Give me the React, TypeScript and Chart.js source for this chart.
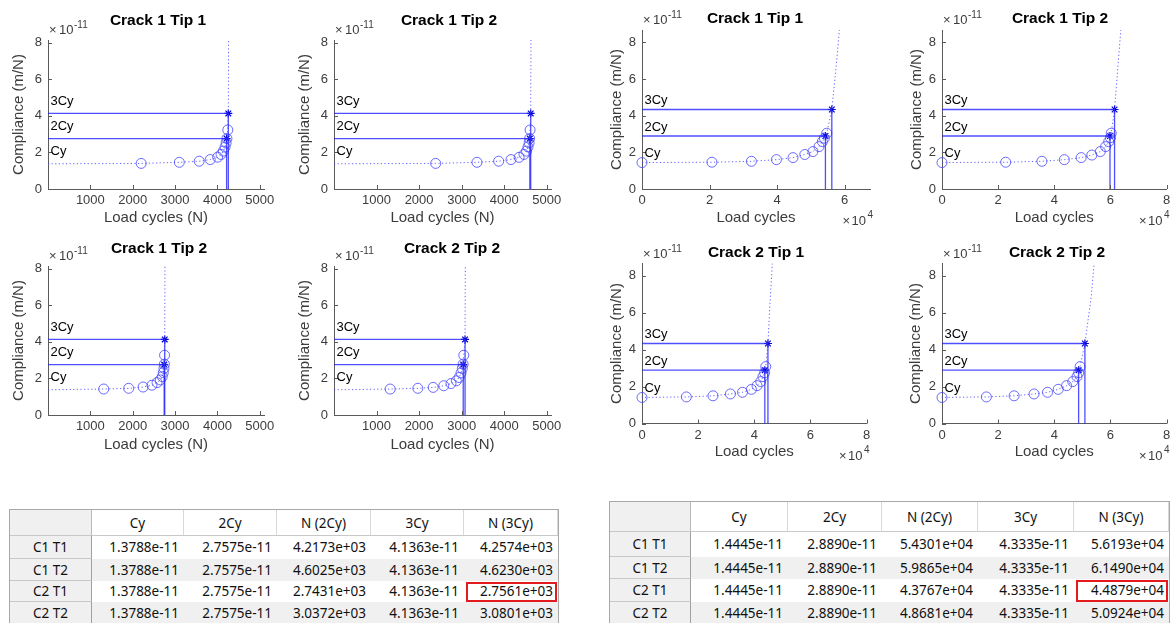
import React, { useEffect, useRef } from "react";
import { Chart, registerables } from "chart.js";
Chart.register(...registerables);

const FONT = '"Liberation Sans", Arial, Helvetica, sans-serif';
const TABLE_FONT = '"Noto Sans", "Open Sans", sans-serif';

// ---- table data ----
const rowLabels = ["C1 T1", "C1 T2", "C2 T1", "C2 T2"];
const colLabels = ["Cy", "2Cy", "N (2Cy)", "3Cy", "N (3Cy)"];

const leftCy = [1.3788e-11, 1.3788e-11, 1.3788e-11, 1.3788e-11];
const left2Cy = [2.7575e-11, 2.7575e-11, 2.7575e-11, 2.7575e-11];
const leftN2Cy = [4217.3, 4602.5, 2743.1, 3037.2];
const left3Cy = [4.1363e-11, 4.1363e-11, 4.1363e-11, 4.1363e-11];
const leftN3Cy = [4257.4, 4623.0, 2756.1, 3080.1];

const rightCy = [1.4445e-11, 1.4445e-11, 1.4445e-11, 1.4445e-11];
const right2Cy = [2.889e-11, 2.889e-11, 2.889e-11, 2.889e-11];
const rightN2Cy = [54301, 59865, 43767, 48681];
const right3Cy = [4.3335e-11, 4.3335e-11, 4.3335e-11, 4.3335e-11];
const rightN3Cy = [56193, 61490, 44879, 50924];

// ---- chart titles ----
const leftTitles = ["Crack 1 Tip 1", "Crack 1 Tip 2", "Crack 1 Tip 2", "Crack 2 Tip 2"];
const rightTitles = ["Crack 1 Tip 1", "Crack 1 Tip 2", "Crack 2 Tip 1", "Crack 2 Tip 2"];

// ---- measured points: load cycles and compliance (x1e-11 m/N) ----
const l1Cycles = [2200, 3100, 3570, 3830, 4005, 4085, 4140, 4180, 4205, 4225, 4245];
const l1Compl = [1.4, 1.46, 1.52, 1.61, 1.74, 1.89, 2.07, 2.29, 2.52, 2.76, 3.23];
const l2Cycles = [2390, 3360, 3870, 4160, 4350, 4465, 4525, 4560, 4585, 4598, 4608];
const l2Compl = [1.4, 1.46, 1.52, 1.61, 1.73, 1.89, 2.07, 2.3, 2.52, 2.76, 3.23];
const l3Cycles = [1315, 1905, 2245, 2455, 2575, 2650, 2698, 2722, 2738, 2748, 2752];
const l3Compl = [1.42, 1.46, 1.53, 1.63, 1.77, 1.92, 2.1, 2.32, 2.55, 2.78, 3.27];
const l4Cycles = [1320, 1970, 2330, 2580, 2750, 2875, 2940, 2985, 3015, 3035, 3050];
const l4Compl = [1.42, 1.46, 1.51, 1.6, 1.72, 1.87, 2.05, 2.3, 2.55, 2.78, 3.27];

const r1Cycles = [0, 20700, 32400, 39800, 44700, 48200, 50600, 52400, 53400, 54000, 54700];
const r1Compl = [1.44, 1.46, 1.51, 1.6, 1.71, 1.88, 2.04, 2.31, 2.58, 2.77, 3.04];
const r2Cycles = [0, 22700, 35600, 43600, 49600, 53400, 56400, 58300, 59400, 60000, 60300];
const r2Compl = [1.44, 1.46, 1.51, 1.6, 1.71, 1.85, 2.04, 2.31, 2.58, 2.8, 3.04];
const r3Cycles = [0, 15800, 25300, 31500, 35800, 39000, 41000, 42300, 43100, 43700, 44100];
const r3Compl = [1.41, 1.44, 1.5, 1.6, 1.69, 1.85, 2.05, 2.27, 2.54, 2.75, 3.08];
const r4Cycles = [0, 15800, 25700, 32800, 37600, 41400, 44400, 46600, 48100, 48700, 49200];
const r4Compl = [1.41, 1.44, 1.5, 1.6, 1.69, 1.85, 2.05, 2.27, 2.54, 2.75, 3.08];

// ---- trend continuation beyond 3Cy ----
const l1TailCycles = [4265];
const l1TailCompl = [8.8];
const l2TailCycles = [4630];
const l2TailCompl = [8.8];
const l3TailCycles = [2762];
const l3TailCompl = [8.8];
const l4TailCycles = [3086];
const l4TailCompl = [8.8];
const r1TailCycles = [57500, 58500];
const r1TailCompl = [6.7, 8.8];
const r2TailCycles = [62700, 63800];
const r2TailCompl = [6.7, 8.8];
const r3TailCycles = [45600, 46500];
const r3TailCompl = [6.5, 8.8];
const r4TailCycles = [53200, 54300];
const r4TailCompl = [6.9, 8.8];

// ---- axis ticks ----
const yTicks = [0, 2, 4, 6, 8];
const leftXTicks = [0, 1000, 2000, 3000, 4000, 5000];
const rightXTicksShort = [0, 20000, 40000, 60000];
const rightXTicks = [0, 20000, 40000, 60000, 80000];

const AXIS = "#5a5a5a";
const TICK_TXT = "#3c3c3c";

type Spec = {
  title: string; titleX: number; titleY: number;
  L: number; T: number; R: number; B: number;
  xMax: number; yMax: number; xTicks: number[];
  right: boolean; yTitleX: number; xTitleY: number;
  cy: number; c2: number; n2: number; c3: number; n3: number;
  cyc: number[]; comp: number[]; tailC: number[]; tailV: number[];
  labelOff: number;
};

const E = 1e11;
function mk(i: number, right: boolean, cyc: number[], comp: number[], tailC: number[], tailV: number[], geo: any): Spec {
  return {
    title: right ? rightTitles[i] : leftTitles[i],
    right,
    cy: (right ? rightCy[i] : leftCy[i]) * E,
    c2: (right ? right2Cy[i] : left2Cy[i]) * E,
    n2: right ? rightN2Cy[i] : leftN2Cy[i],
    c3: (right ? right3Cy[i] : left3Cy[i]) * E,
    n3: right ? rightN3Cy[i] : leftN3Cy[i],
    cyc, comp, tailC, tailV,
    labelOff: right ? 0.48 : 0.66,
    ...geo,
  };
}

const specs: Spec[] = [
  mk(0, false, l1Cycles, l1Compl, l1TailCycles, l1TailCompl, { titleX: 158, titleY: 20.5, L: 48, T: 40, R: 264, B: 189, xMax: 5100, yMax: 8.15, xTicks: leftXTicks, yTitleX: 19, xTitleY: 218 }),
  mk(1, false, l2Cycles, l2Compl, l2TailCycles, l2TailCompl, { titleX: 449, titleY: 20.5, L: 334, T: 40, R: 551, B: 189, xMax: 5100, yMax: 8.15, xTicks: leftXTicks, yTitleX: 305, xTitleY: 218 }),
  mk(2, false, l3Cycles, l3Compl, l3TailCycles, l3TailCompl, { titleX: 159, titleY: 249, L: 48, T: 266, R: 264, B: 415, xMax: 5100, yMax: 8.15, xTicks: leftXTicks, yTitleX: 19, xTitleY: 445 }),
  mk(3, false, l4Cycles, l4Compl, l4TailCycles, l4TailCompl, { titleX: 452, titleY: 249, L: 334, T: 266, R: 551, B: 415, xMax: 5100, yMax: 8.15, xTicks: leftXTicks, yTitleX: 305, xTitleY: 445 }),
  mk(0, true, r1Cycles, r1Compl, r1TailCycles, r1TailCompl, { titleX: 755, titleY: 19, L: 642, T: 30, R: 870, B: 189, xMax: 67500, yMax: 8.667, xTicks: rightXTicksShort, yTitleX: 617, xTitleY: 218 }),
  mk(1, true, r2Cycles, r2Compl, r2TailCycles, r2TailCompl, { titleX: 1060, titleY: 19, L: 942, T: 30, R: 1166.5, B: 189, xMax: 80000, yMax: 8.667, xTicks: rightXTicks, yTitleX: 917, xTitleY: 218 }),
  mk(2, true, r3Cycles, r3Compl, r3TailCycles, r3TailCompl, { titleX: 756, titleY: 253, L: 642, T: 263.5, R: 866.5, B: 423.5, xMax: 80000, yMax: 8.667, xTicks: rightXTicks, yTitleX: 617, xTitleY: 451.5 }),
  mk(3, true, r4Cycles, r4Compl, r4TailCycles, r4TailCompl, { titleX: 1057, titleY: 253, L: 942, T: 263.5, R: 1166.5, B: 423.5, xMax: 80000, yMax: 8.667, xTicks: rightXTicks, yTitleX: 916, xTitleY: 451.5 }),
];

function ChartPanel({ s }: { s: Spec }) {
  const ref = useRef<HTMLCanvasElement>(null);
  const cx = Math.round(s.yTitleX - 12);
  const cyTop = Math.round(s.titleY - 14);
  const cw = Math.round(s.R + 30 - cx);
  const ch = Math.round(s.xTitleY + 14 - cyTop);

  useEffect(() => {
    if (!ref.current) return;
    const pts = (xs: number[], ys: number[]) => xs.map((x, i) => ({ x, y: ys[i] }));
    const trend = [{ x: 0, y: s.cy }, ...pts(s.cyc, s.comp), { x: s.n3, y: s.c3 }, ...pts(s.tailC, s.tailV)];
    const lineCol = "rgba(35,35,255,0.8)";
    const solid = (data: any[]) => ({ data, showLine: true, borderColor: lineCol, borderWidth: 1.3, pointRadius: 0, clip: 2 });
    const padBottomTitle = cyTop + ch - 9 - s.xTitleY;

    const extras = {
      id: "extras",
      afterDraw(chart: any) {
        const ctx = chart.ctx;
        const xs = chart.scales.x;
        const ys = chart.scales.y;
        ctx.save();
        ctx.strokeStyle = AXIS;
        ctx.lineWidth = 1;
        ctx.beginPath();
        ys.ticks.forEach((t: any) => {
          const py = Math.round(ys.getPixelForValue(t.value)) + 0.5;
          ctx.moveTo(xs.left, py);
          ctx.lineTo(xs.left + 4, py);
        });
        xs.ticks.forEach((t: any) => {
          const px = Math.round(xs.getPixelForValue(t.value)) + 0.5;
          ctx.moveTo(px, ys.bottom);
          ctx.lineTo(px, ys.bottom - 4);
        });
        ctx.stroke();
        // title
        ctx.fillStyle = "#000";
        ctx.font = `bold 15.5px ${FONT}`;
        ctx.textAlign = "center";
        ctx.textBaseline = "middle";
        ctx.fillText(s.title, s.titleX - cx, s.titleY - cyTop);
        // y exponent
        ctx.fillStyle = TICK_TXT;
        ctx.textAlign = "left";
        ctx.textBaseline = "alphabetic";
        const ex = xs.left + 1;
        const eb = ys.top - 6;
        ctx.font = `13px ${FONT}`;
        ctx.fillText("\u00d7", ex, eb);
        ctx.fillText("10", ex + 10, eb);
        ctx.font = `10px ${FONT}`;
        ctx.fillText("-11", ex + 25, eb - 6);
        // x exponent
        if (s.right) {
          const rx = xs.right + 3;
          const rb = ys.bottom + 36;
          ctx.font = `10px ${FONT}`;
          ctx.textAlign = "right";
          ctx.fillText("4", rx, rb - 7);
          ctx.font = `13px ${FONT}`;
          ctx.fillText("10", rx - 7, rb);
          ctx.fillText("\u00d7", rx - 23, rb);
        }
        // Cy labels
        ctx.fillStyle = "#000";
        ctx.font = `13px ${FONT}`;
        ctx.textAlign = "left";
        ctx.textBaseline = "middle";
        const labs: [string, number][] = [["Cy", s.cy], ["2Cy", s.c2], ["3Cy", s.c3]];
        labs.forEach(([t, v]) => ctx.fillText(t, xs.left + 2.5, ys.getPixelForValue(v + s.labelOff)));
        ctx.restore();
      },
    };

    const chart = new Chart(ref.current, {
      type: "scatter",
      data: {
        datasets: [
          {
            data: trend, showLine: true, borderColor: "rgba(70,70,255,0.85)", borderWidth: 1,
            borderDash: [1.2, 2.4], pointRadius: 0, clip: { left: 2, top: 0, right: 2, bottom: 2 },
          } as any,
          solid([{ x: 0, y: s.c2 }, { x: s.n2, y: s.c2 }]),
          solid([{ x: s.n2, y: 0 }, { x: s.n2, y: s.c2 }]),
          solid([{ x: 0, y: s.c3 }, { x: s.n3, y: s.c3 }]),
          solid([{ x: s.n3, y: 0 }, { x: s.n3, y: s.c3 }]),
          {
            data: pts(s.cyc, s.comp), showLine: false, pointRadius: 5, pointBorderWidth: 1,
            pointBorderColor: "rgba(70,70,255,0.8)", pointBackgroundColor: "rgba(0,0,0,0)", clip: 10,
          } as any,
          {
            data: [{ x: s.n2, y: s.c2 }, { x: s.n3, y: s.c3 }], showLine: false, pointStyle: "star",
            pointRadius: 4, pointBorderWidth: 1.2, pointBorderColor: "#0000d0", clip: 10,
          } as any,
        ],
      },
      options: {
        animation: false,
        responsive: false,
        maintainAspectRatio: false,
        events: [],
        layout: { padding: { left: 0, top: s.T - cyTop, right: cx + cw - s.R, bottom: 0 } },
        plugins: { legend: { display: false }, tooltip: { enabled: false }, title: { display: false } },
        scales: {
          x: {
            type: "linear", position: "bottom", min: 0, max: s.xMax,
            afterBuildTicks: (sc: any) => { sc.ticks = s.xTicks.map((v) => ({ value: v })); },
            afterFit: (sc: any) => { sc.height = cyTop + ch - s.B; },
            ticks: {
              autoSkip: false, maxRotation: 0, padding: 4, color: TICK_TXT,
              font: { family: FONT, size: 13 },
              callback: (v: any) => (s.right ? String(Number(v) / 10000) : Number(v) === 0 ? "" : String(v)),
            },
            grid: { display: false, drawTicks: false },
            border: { display: true, color: AXIS, width: 1 },
            title: {
              display: true, text: s.right ? "Load cycles" : "Load cycles (N)", color: TICK_TXT,
              font: { family: FONT, size: 15 }, padding: { top: 0, bottom: padBottomTitle },
            },
          },
          y: {
            type: "linear", position: "left", min: 0, max: s.yMax,
            afterBuildTicks: (sc: any) => { sc.ticks = yTicks.map((v) => ({ value: v })); },
            afterFit: (sc: any) => { sc.width = s.L - cx; },
            ticks: { padding: 6, color: TICK_TXT, font: { family: FONT, size: 13 }, callback: (v: any) => String(v) },
            grid: { display: false, drawTicks: false },
            border: { display: true, color: AXIS, width: 1 },
            title: {
              display: true, text: "Compliance (m/N)", color: TICK_TXT,
              font: { family: FONT, size: 15 }, padding: { top: 3, bottom: 0 },
            },
          },
        },
      } as any,
      plugins: [extras],
    });
    return () => chart.destroy();
  }, []);

  return (
    <canvas
      ref={ref}
      width={cw}
      height={ch}
      style={{ position: "absolute", left: cx, top: cyTop, width: cw, height: ch }}
    />
  );
}

function fmt(v: number) {
  const [m, e] = v.toExponential(4).split("e");
  const sign = e[0] === "-" ? "-" : "+";
  const d = e.replace(/[+-]/, "").padStart(2, "0");
  return `${m}e${sign}${d}`;
}

function ResultTable(props: {
  x: number; y: number; colX: number[]; rowY: number[];
  cy: number[]; c2: number[]; n2: number[]; c3: number[]; n3: number[]; mark: [number, number];
}) {
  const { x, y, colX, rowY } = props;
  const cols = [props.cy, props.c2, props.n2, props.c3, props.n3];
  const cells: any[] = [];
  const base: any = {
    position: "absolute", boxSizing: "border-box", fontFamily: TABLE_FONT, fontSize: 13.5,
    color: "#111", whiteSpace: "nowrap", overflow: "hidden",
  };
  const W = colX[colX.length - 1] - colX[0];
  const H = rowY[rowY.length - 1] - rowY[0];
  for (let r = 0; r < rowY.length - 1; r++) {
    for (let c = 0; c < colX.length - 1; c++) {
      const st: any = {
        ...base,
        left: colX[c] - colX[0], top: rowY[r] - rowY[0],
        width: colX[c + 1] - colX[c], height: rowY[r + 1] - rowY[r],
        lineHeight: `${rowY[r + 1] - rowY[r]}px`,
      };
      let text = "";
      if (r === 0 && c === 0) {
        Object.assign(st, { background: "#f0f0f0", borderRight: "1px solid #b8b8b8", borderBottom: "1px solid #c8c8c8" });
      } else if (r === 0) {
        text = colLabels[c - 1];
        Object.assign(st, { background: "#fff", textAlign: "center", borderRight: "1px solid #d8d8d8", borderBottom: "1px solid #c8c8c8" });
      } else if (c === 0) {
        text = rowLabels[r - 1];
        Object.assign(st, { background: "#f0f0f0", textAlign: "center", borderRight: "1px solid #a0a0a0", borderBottom: "1px solid #c8c8c8" });
      } else {
        text = fmt(cols[c - 1][r - 1]);
        Object.assign(st, { background: r % 2 === 1 ? "#fff" : "#f0f0f0", textAlign: "right", paddingRight: 5 });
      }
      cells.push(<div key={`${r}-${c}`} style={st}>{text}</div>);
    }
  }
  const [mr, mc] = props.mark;
  cells.push(
    <div key="mark" style={{
      position: "absolute", boxSizing: "border-box",
      left: colX[mc] - colX[0] + 2, top: rowY[mr] - rowY[0] + 1,
      width: colX[mc + 1] - colX[mc] - 3, height: rowY[mr + 1] - rowY[mr] - 1,
      border: "2px solid #e41a1c",
    }} />
  );
  return (
    <div style={{ position: "absolute", left: x, top: y, width: W, height: H, border: "1px solid #a8a8a8", boxSizing: "content-box", background: "#fff" }}>
      {cells}
    </div>
  );
}

export default function App() {
  return (
    <div style={{ position: "absolute", left: 0, top: 0, width: 1174, height: 623, overflow: "hidden", background: "#fff" }}>
      {specs.map((s, i) => <ChartPanel key={i} s={s} />)}
      <ResultTable
        x={9} y={509}
        colX={[9, 91, 183, 276, 370, 463, 557]}
        rowY={[509, 535, 558, 580, 601, 623]}
        cy={leftCy} c2={left2Cy} n2={leftN2Cy} c3={left3Cy} n3={leftN3Cy}
        mark={[3, 5]}
      />
      <ResultTable
        x={609} y={501}
        colX={[609, 690, 787, 881, 977, 1073, 1168]}
        rowY={[501, 531, 556, 578, 601, 623]}
        cy={rightCy} c2={right2Cy} n2={rightN2Cy} c3={right3Cy} n3={rightN3Cy}
        mark={[3, 5]}
      />
    </div>
  );
}
